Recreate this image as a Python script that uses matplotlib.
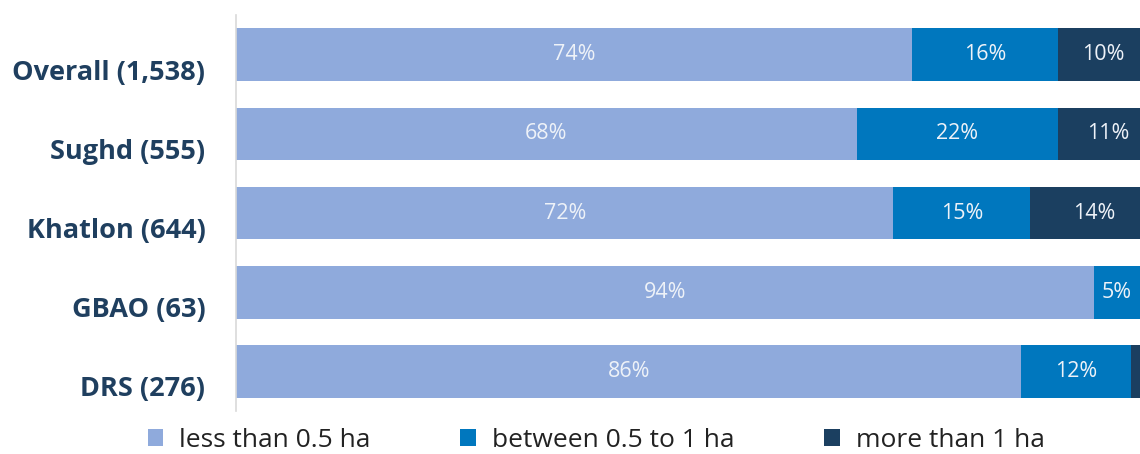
import matplotlib
matplotlib.use("Agg")
import matplotlib.pyplot as plt
from matplotlib.patches import Patch

categories = ["Overall (1,538)", "Sughd (555)", "Khatlon (644)", "GBAO (63)", "DRS (276)"]
series_names = ["less than 0.5 ha", "between 0.5 to 1 ha", "more than 1 ha"]
less_half = [74, 68, 72, 94, 86]
half_to_one = [16, 22, 15, 5, 12]
more_one = [10, 11, 14, 1, 2]
show_label = [[True] * 5, [True] * 5, [True, True, True, False, False]]

colors = ["#8FAADC", "#0077BE", "#1B3F60"]
label_color = "#1F3F5F"

plt.rcParams['font.family'] = ['Open Sans', 'DejaVu Sans']

fig = plt.figure(figsize=(11.4, 4.54), dpi=100)
ax = fig.add_axes([0.207, 0.0947, 0.793, 0.872])

series = [less_half, half_to_one, more_one]
y = list(range(len(categories)))
left = [0] * len(categories)
for s, vals in enumerate(series):
    bars = ax.barh(y, vals, left=left, height=0.665, color=colors[s], label=series_names[s])
    for i, (b, v) in enumerate(zip(bars, vals)):
        if show_label[s][i]:
            ax.text(left[i] + v / 2, i, f"{v}%", ha="center", va="center",
                    color="#EEF2F8", fontsize=15.5)
    left = [l + v for l, v in zip(left, vals)]

ax.set_xlim(0, 99)
ax.set_ylim(len(categories) - 0.5, -0.5)
ax.set_yticks([])
ax.set_xticks([])
# category labels (sit slightly below the bar centres, as in the original)
for i, cat in enumerate(categories):
    ax.annotate(cat, xy=(0, i), xycoords=("axes fraction", "data"),
                xytext=(-22, -13), textcoords="offset points",
                ha="right", va="center", fontsize=19.5, fontweight="bold",
                color=label_color, annotation_clip=False)
for sp in ["top", "right", "bottom"]:
    ax.spines[sp].set_visible(False)
ax.spines["left"].set_color("#D9D9D9")
ax.spines["left"].set_linewidth(1.2)

handles = [Patch(facecolor=c, edgecolor="none") for c in colors]
fig.legend(handles, series_names, loc="center", bbox_to_anchor=(0.523, 0.03),
           ncol=3, frameon=False, fontsize=19, handlelength=0.6, handleheight=0.65,
           columnspacing=3.4, handletextpad=0.6, labelcolor="#222222",
           borderpad=0, borderaxespad=0)

fig.savefig("out.png", dpi=100)
